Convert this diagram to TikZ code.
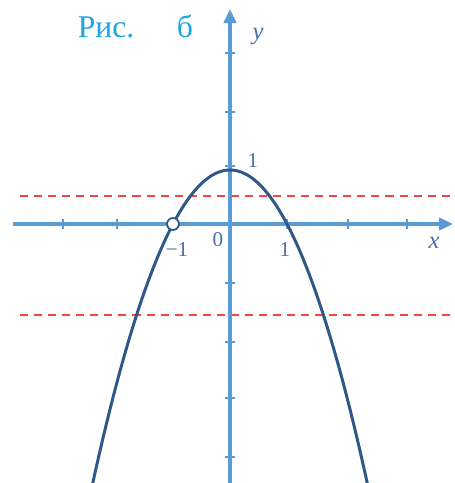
\documentclass[tikz,border=0pt]{standalone}
\usepackage{fontspec}
\setmainfont{Liberation Serif}
\usetikzlibrary{arrows.meta}
\definecolor{axisblue}{RGB}{91,155,213}
\definecolor{curveblue}{RGB}{47,88,135}
\definecolor{labelblue}{RGB}{70,110,170}
\definecolor{titleblue}{RGB}{30,165,225}
\definecolor{dashred}{RGB}{240,70,70}
\begin{document}
\begin{tikzpicture}[x=0.02cm,y=-0.02cm,
  axis/.style={axisblue,line width=1.8pt},
  tickmark/.style={axisblue,line width=1.1pt},
  guide/.style={dashred,line width=1.3pt,dash pattern=on 4.6pt off 3.4pt},
  curve/.style={curveblue,line width=1.7pt},
  lbl/.style={text=labelblue,inner sep=0pt,font=\fontsize{12}{14}\selectfont},
  title/.style={text=titleblue,inner sep=0pt,font=\fontsize{18}{21}\selectfont}]
\useasboundingbox (0,0) rectangle (454,483);
\clip (0,0) rectangle (454,483);
% dashed guide lines
\draw[guide] (20,196) -- (454,196);
\draw[guide] (20,315) -- (454,315);
% axes
\draw[axis,-{Triangle[length=8pt,width=7pt]}] (13,224) -- (453,224);
\draw[axis,-{Triangle[length=8pt,width=7pt]}] (230,490) -- (230,9);
\foreach \x in {63,117,173,287,348,407} \draw[tickmark] (\x,219) -- (\x,229);
\foreach \y in {53,112,166,283,342,398,457} \draw[tickmark] (225,\y) -- (235,\y);
% curve
\draw[curve,domain=-2.55:2.55,samples=120,smooth] plot ({230+57*\x},{224-54*(1-\x*\x)});
\draw[curveblue,fill=white,line width=1pt] (173,224) circle[radius=3.4pt];
% labels
\node[title] (ris) at (106,27) {Рис.};
\node[title] (b) at (185,26) {б};
\node[lbl,font=\fontsize{14}{16}\selectfont\itshape] (ylab) at (258,37) {y};
\node[lbl,font=\fontsize{14}{16}\selectfont\itshape] (xlab) at (434,243) {x};
\node[lbl] (one) at (253,161) {1};
\node[lbl] (zero) at (218,240) {0};
\node[lbl] (mone) at (177,250) {\textminus1};
\node[lbl] (onex) at (285,250) {1};
\end{tikzpicture}
\end{document}
